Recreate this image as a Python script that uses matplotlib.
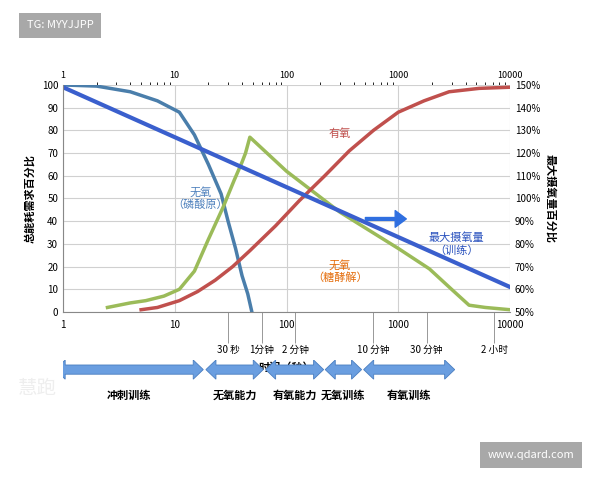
import numpy as np
import matplotlib.pyplot as plt
from matplotlib.patches import Polygon

plt.rcParams['font.family'] = ['Noto Sans CJK SC', 'DejaVu Sans']

# 磷酸原
phos_x = [1, 2, 4, 7, 11, 15, 20, 26, 30, 35, 40, 45, 49]
phos_y = [100, 99.5, 97, 93, 88, 78, 65, 52, 40, 28, 16, 8, 0]
# 糖酵解
gly_x = [2.5, 4, 5.5, 8, 11, 15, 20, 27, 34, 40, 43, 47, 100, 300, 1000, 1900, 3000, 4300, 6000, 10000]
gly_y = [2, 4, 5, 7, 10, 18, 32, 46, 58, 66, 70, 77, 62, 44, 28, 19, 10, 3, 2, 1]
# 有氧
aer_x = [5, 7, 11, 16, 23, 33, 47, 80, 130, 220, 365, 600, 1000, 1700, 2850, 5300, 10000]
aer_y = [1, 2, 5, 9, 14, 20, 27, 38, 49, 60, 71, 80, 88, 93, 97, 98.5, 99]
# 最大摄氧量
vo2_x = [1, 10000]
vo2_y = [99, 11]

extra_ticks = [30, 60, 120, 600, 1800, 7200]
extra_labels = ['30 秒', '1分钟', '2 分钟', '10 分钟', '30 分钟', '2 小时']
zones = ['冲刺训练', '无氧能力', '有氧能力', '无氧训练', '有氧训练']
zone_edges = [0.85, 18, 19, 62, 65, 215, 222, 470, 490, 3200]

fig = plt.figure(figsize=(6, 4.8), dpi=100)
ax = fig.add_axes([0.105, 0.35, 0.745, 0.473])
ax.set_xscale('log')
ax.set_xlim(1, 10000)
ax.set_ylim(0, 100)
ax.set_yticks(range(0, 101, 10))
ax.grid(True, color='#d0d0d0', lw=0.8)
ax.set_axisbelow(True)
for s in ['top', 'right']:
    ax.spines[s].set_visible(False)
ax.spines['left'].set_color('#888')
ax.spines['bottom'].set_color('#888')

ax.plot(phos_x, phos_y, color='#4a7eab', lw=2.5)
ax.plot(gly_x, gly_y, color='#9bbb59', lw=2.5)
ax.plot(aer_x, aer_y, color='#c0504d', lw=2.5)
ax.plot(vo2_x, vo2_y, color='#3a5fcd', lw=3)

ax.text(17, 50, '无氧\n（磷酸原）', color='#4f81bd', fontsize=8, ha='center', va='center')
ax.text(300, 77, '有氧', color='#c0504d', fontsize=8, ha='center')
ax.text(300, 18, '无氧\n（糖酵解）', color='#e46c0a', fontsize=8, ha='center', va='center')
ax.text(3300, 30, '最大摄氧量\n（训练）', color='#2a52be', fontsize=8, ha='center', va='center')
ax.annotate('', xy=(1250, 41), xytext=(480, 41),
            arrowprops=dict(arrowstyle='simple,head_width=1.2,head_length=0.8', color='#2f6fe0'))

ax.tick_params(axis='both', labelsize=7, length=0)
ax.set_xticks([1, 10, 100, 1000, 10000])
ax.set_xticklabels(['1', '10', '100', '1000', '10000'])
ax.set_xticks(extra_ticks, minor=True)
ax.set_xticklabels(extra_labels, minor=True)
ax.tick_params(axis='x', which='minor', length=22, color='#888', labelsize=7, pad=2)
ax.tick_params(axis='x', which='major', pad=6)
ax.set_xlabel('时间（秒）', fontsize=8, fontweight='bold', labelpad=4)
ax.set_ylabel('总能耗需求百分比', fontsize=8, fontweight='bold')

top = ax.secondary_xaxis('top')
top.set_xticks([1, 10, 100, 1000, 10000])
top.set_xticklabels(['1', '10', '100', '1000', '10000'])
top.tick_params(labelsize=6.5, length=0)
top.spines['top'].set_visible(False)

ax2 = ax.twinx()
ax2.set_ylim(50, 150)
ax2.set_yticks(range(50, 151, 10))
ax2.set_yticklabels([f'{v}%' for v in range(50, 151, 10)])
ax2.tick_params(labelsize=7, length=0)
for s in ['top', 'right', 'left', 'bottom']:
    ax2.spines[s].set_visible(False)
ax2.set_ylabel('最大摄氧量百分比', fontsize=8, fontweight='bold', rotation=-90, labelpad=12)

# 训练区间箭头（横轴用 log10 秒）
axz = fig.add_axes([0.105, 0.17, 0.745, 0.08])
axz.set_xlim(0, 4)
axz.set_ylim(0, 1)
axz.axis('off')
for i, name in enumerate(zones):
    a = np.log10(zone_edges[2 * i])
    b = np.log10(zone_edges[2 * i + 1])
    h = 0.09  # 箭头头部长度
    pts = [(a, 0.75), (a + h, 1.0), (a + h, 0.87), (b - h, 0.87), (b - h, 1.0),
           (b, 0.75), (b - h, 0.5), (b - h, 0.63), (a + h, 0.63), (a + h, 0.5)]
    axz.add_patch(Polygon(pts, closed=True, fc='#6a9ee0', ec='#4a7ec0', lw=0.6))
    axz.text((a + b) / 2, 0.08, name, fontsize=8, fontweight='bold', ha='center', va='center')

fig.text(0.03, 0.18, '慧跑', fontsize=14, color='#eeeeee')
fig.text(0.1, 0.947, 'TG: MYYJJPP', fontsize=8, color='white', ha='center', va='center',
         bbox=dict(boxstyle='square,pad=0.7', fc='#a8a8a8', ec='none'))
fig.text(0.885, 0.052, 'www.qdard.com', fontsize=8, color='white', ha='center', va='center',
         bbox=dict(boxstyle='square,pad=0.7', fc='#a8a8a8', ec='none'))

fig.savefig('out.png')
